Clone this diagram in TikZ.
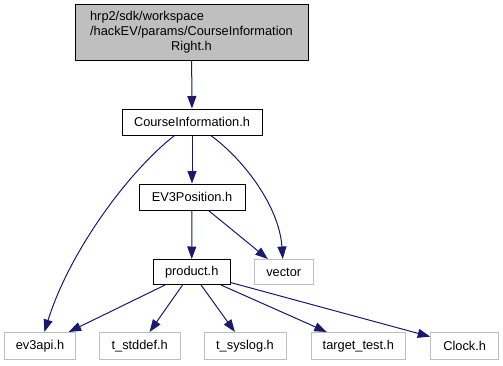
\documentclass[tikz,border=0pt]{standalone}
\usepackage{fontspec}
\setmainfont{Liberation Sans}
\usetikzlibrary{arrows.meta}
\definecolor{edgeblue}{HTML}{191970}
\definecolor{boxgray}{HTML}{BFBFBF}
\begin{document}
\begin{tikzpicture}[x=1pt,y=-1pt,
  every node/.style={font=\fontsize{12.8}{15}\selectfont, inner sep=0pt, anchor=center},
  filebox/.style={draw=black, line width=1pt, minimum height=26pt},
  extbox/.style={draw=boxgray, line width=1pt, minimum height=27pt},
  rootbox/.style={draw=black, fill=boxgray, line width=1pt},
  dep/.style={draw=edgeblue, line width=1pt, -{Triangle[length=12.5pt,width=9pt]}}
]
\useasboundingbox (0,0) rectangle (503,365);

% included headers, top to bottom
\node[rootbox, minimum width=233pt, minimum height=56pt] (root) at (191.5,32)
  {\begin{tabular}{@{}l@{}}hrp2/sdk/workspace\\/hackEV/params/CourseInformation\\\multicolumn{1}{@{}c@{}}{Right.h}\end{tabular}};
\node[filebox, minimum width=140pt] (ci) at (192,122) {CourseInformation.h};
\node[filebox, minimum width=106pt] (ev3pos) at (192,197) {EV3Position.h};
\node[filebox, minimum width=77pt, minimum height=25pt] (product) at (191.7,272) {product.h};
\node[extbox, minimum width=59pt, minimum height=25pt] (vector) at (283.7,272) {vector};

% system headers
\node[extbox, minimum width=70.6pt] (ev3api) at (40,346) {ev3api.h};
\node[extbox, minimum width=80.7pt] (stddef) at (139.7,346) {t\_stddef.h};
\node[extbox, minimum width=82pt] (syslog) at (245,346) {t\_syslog.h};
\node[extbox, minimum width=94pt] (targettest) at (358.3,346) {target\_test.h};
\node[extbox, minimum width=68pt] (clock) at (464.7,346) {Clock.h};

% include edges
\draw[dep] (root) -- (ci);
\draw[dep] (ci) .. controls (130,170) and (70,250) .. (ev3api);
\draw[dep] (ci) -- (ev3pos);
\draw[dep] (ci) .. controls (242,158) and (279,205) .. (vector);
\draw[dep] (ev3pos) -- (product);
\draw[dep] (ev3pos) -- (vector);
\draw[dep] (product) -- (ev3api);
\draw[dep] (product) -- (stddef);
\draw[dep] (product) -- (syslog);
\draw[dep] (product) -- (targettest);
\draw[dep] (product) -- (clock);
\end{tikzpicture}
\end{document}
